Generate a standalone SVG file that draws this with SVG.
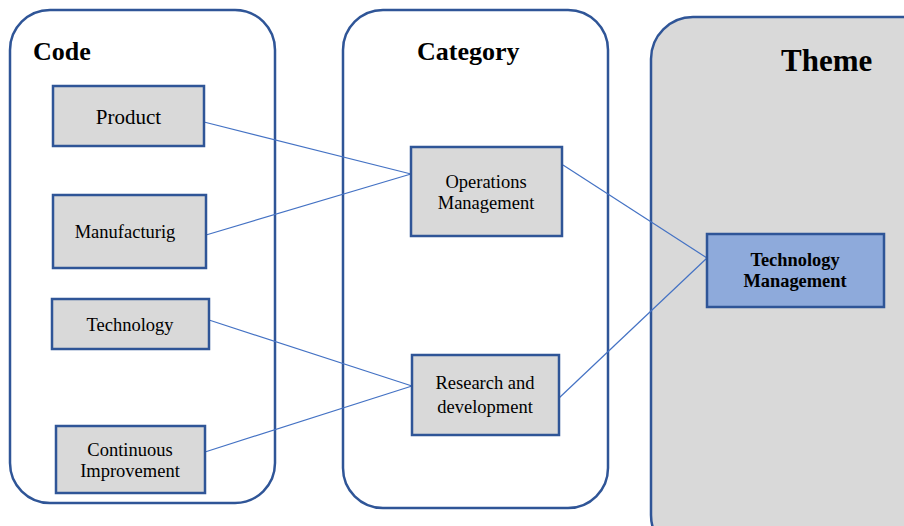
<svg xmlns="http://www.w3.org/2000/svg" width="904" height="526" viewBox="0 0 904 526">
<style>
.cont{fill:#ffffff;stroke:#2f5597;stroke-width:2.5}
.theme{fill:#d9d9d9;stroke:#2f5597;stroke-width:2.5}
.box{fill:#d9d9d9;stroke:#2f5597;stroke-width:2.5}
.tbox{fill:#8eaadb;stroke:#2f5597;stroke-width:2.5}
text{font-family:'Liberation Serif','DejaVu Serif',serif;fill:#000}
.hdr{font-weight:bold}
.lbl{font-size:18.5px;text-anchor:middle}
.big{font-size:21px}
.blbl{font-size:18.4px;font-weight:bold;text-anchor:middle}
.conn line{stroke:#4472c4;stroke-width:1.2}
</style>
<rect width="904" height="526" fill="#ffffff"/>
<g id="code-group">
<rect class="cont" x="10" y="10" width="265" height="493" rx="40" ry="40"/>
<text class="hdr" x="33" y="60" font-size="26">Code</text>
</g>
<g id="category-group">
<rect class="cont" x="343" y="10" width="265" height="498" rx="40" ry="40"/>
<text class="hdr" x="417" y="60" font-size="26">Category</text>
</g>
<g id="theme-group">
<rect class="theme" x="651" y="17" width="300" height="540" rx="42" ry="42"/>
<text class="hdr" x="781" y="71" font-size="31">Theme</text>
</g>
<g class="conn" id="connectors">
<line x1="204" y1="122" x2="411" y2="174"/>
<line x1="206" y1="235" x2="411" y2="174"/>
<line x1="209" y1="320" x2="412" y2="386"/>
<line x1="205" y1="452" x2="412" y2="386"/>
<line x1="563" y1="165" x2="707" y2="258"/>
<line x1="559" y1="398" x2="707" y2="258"/>
</g>
<g id="product">
<rect class="box" x="53" y="86" width="151" height="60"/>
<text class="lbl big" x="128.5" y="124">Product</text>
</g>
<g id="manufacturig">
<rect class="box" x="53" y="195" width="153" height="73"/>
<text class="lbl" x="125" y="238">Manufacturig</text>
</g>
<g id="technology">
<rect class="box" x="52" y="299" width="157" height="50"/>
<text class="lbl" x="130" y="331">Technology</text>
</g>
<g id="continuous-improvement">
<rect class="box" x="56" y="426" width="149" height="67"/>
<text class="lbl" x="130" y="456">Continuous</text>
<text class="lbl" x="130" y="477">Improvement</text>
</g>
<g id="operations-management">
<rect class="box" x="411" y="147" width="151" height="89"/>
<text class="lbl" x="486" y="188">Operations</text>
<text class="lbl" x="486" y="209">Management</text>
</g>
<g id="research-development">
<rect class="box" x="412" y="355" width="147" height="80"/>
<text class="lbl" x="485" y="389">Research and</text>
<text class="lbl" x="485" y="413">development</text>
</g>
<g id="technology-management">
<rect class="tbox" x="707" y="234" width="177" height="73"/>
<text class="blbl" x="795" y="266">Technology</text>
<text class="blbl" x="795" y="287">Management</text>
</g>
</svg>
